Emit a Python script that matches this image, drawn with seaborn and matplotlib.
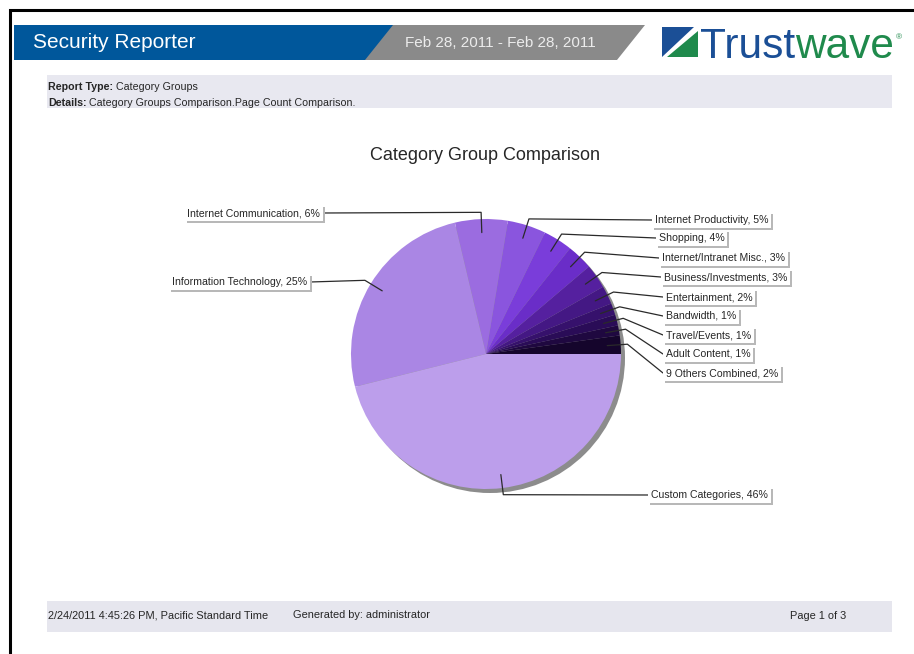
"""
Category Group Comparison pie, laid out as the Security Reporter page.
"""

import numpy as np
import matplotlib.pyplot as plt
import matplotlib.patches as mpatches
import matplotlib.patheffects as pe
import seaborn as sns

sns.set_theme(style="white")
plt.rcParams["font.family"] = ["Liberation Sans", "DejaVu Sans"]

# --- data (counter-clockwise from 3 o'clock) ---
categories = [
    "9 Others Combined", "Adult Content", "Travel/Events", "Bandwidth",
    "Entertainment", "Business/Investments", "Internet/Intranet Misc.",
    "Shopping", "Internet Productivity", "Internet Communication",
    "Information Technology", "Custom Categories",
]
shares = [2.2, 1.2, 1.3, 1.4, 2.2, 2.9, 3.1, 3.5, 4.6, 6.3, 25.2, 46.1]

report_type = "Category Groups"
details = "Category Groups Comparison.Page Count Comparison."
date_range = "Feb 28, 2011 - Feb 28, 2011"
generated_at = "2/24/2011 4:45:26 PM, Pacific Standard Time"
generated_by = "administrator"
page_info = "Page 1 of 3"

# --- style / layout ---
slice_colors = [
    "#15052c", "#1f0840", "#2a0c57", "#36116c", "#441884", "#55209f",
    "#6a2dc8", "#7a3dda", "#8a55de", "#9b6ce0", "#aa86e4", "#bc9eeb",
]
# label box edge (x, y) and side the box sits on
label_pos = [
    (663, 373, "r"), (663, 354, "r"), (663, 335, "r"), (663, 316, "r"),
    (663, 297, "r"), (661, 277, "r"), (659, 258, "r"), (656, 238, "r"),
    (652, 220, "r"), (323, 213, "l"), (310, 282, "l"), (648, 495, "r"),
]
W, H = 914, 654
CX, CY, R = 486, 354, 135
BLUE = "#00579b"

fig = plt.figure(figsize=(W / 100, H / 100), dpi=100)
ax = fig.add_axes([0, 0, 1, 1])

# page frame
ax.plot([10, 10, W], [H, 10, 10], color="black", lw=2.2, solid_joinstyle="miter")

# header bands
ax.add_patch(mpatches.Polygon([(360, 25), (645, 25), (617, 60), (360, 60)],
                              closed=True, fc="#8a8a8a", ec="none"))
ax.add_patch(mpatches.Polygon([(14, 25), (393, 25), (365, 60), (14, 60)],
                              closed=True, fc=BLUE, ec="none"))
ax.text(33, 43, "Security Reporter", color="white", fontsize=15, va="center")
ax.text(405, 43, date_range, color="#ececec", fontsize=11, va="center")

# logo
ax.add_patch(mpatches.Polygon([(662, 27), (694, 27), (662, 57)], fc="#1b4f96", ec="none"))
ax.add_patch(mpatches.Polygon([(698, 31), (698, 57), (667, 57)], fc="#1f8a4c", ec="none"))
t1 = ax.text(700, 58, "Trust", color="#1b4f96", fontsize=30.5, va="baseline")
t2 = ax.annotate("wave", xy=(1, 0), xycoords=t1, va="bottom", color="#1f8a4c", fontsize=30.5)
ax.annotate("\u00ae", xy=(1.02, 0.72), xycoords=t2, va="center", color="#1f8a4c", fontsize=6)

# details band
ax.add_patch(mpatches.Rectangle((47, 75), 845, 33, fc="#e8e8f0", ec="none"))
d1 = ax.text(48, 87, "Report Type:", fontsize=7.7, fontweight="bold", va="center")
ax.annotate(" " + report_type, xy=(1, 0.5), xycoords=d1, va="center", fontsize=7.7)
d2 = ax.text(48, 103, "Details:", fontsize=7.7, fontweight="bold", va="center")
ax.annotate(" " + details, xy=(1, 0.5), xycoords=d2, va="center", fontsize=7.7)

# title
ax.text(485, 155, "Category Group Comparison", fontsize=13, ha="center", va="center")

# pie shadow + pie (y axis is flipped, so counterclock=False reads as CCW)
ax.add_patch(mpatches.Circle((CX + 4, CY + 4), R, fc="#8c8c8c", ec="none", zorder=0.5))
ax.pie(shares, colors=slice_colors, startangle=0, counterclock=False,
       center=(CX, CY), radius=R, frame=True,
       wedgeprops=dict(linewidth=0, antialiased=True))

# leader lines and labels
total = sum(shares)
frac = np.array(shares) / total
mids = np.deg2rad((np.cumsum(frac) - frac / 2) * 360)
for name, share, ang, (lx, ly, side) in zip(categories, shares, mids, label_pos):
    sx, sy = CX + 0.9 * R * np.cos(ang), CY - 0.9 * R * np.sin(ang)
    ex, ey = CX + 1.05 * R * np.cos(ang), CY - 1.05 * R * np.sin(ang)
    ax.plot([sx, ex, lx], [sy, ey, ly], color="#2a2a2a", lw=0.9, zorder=3)
    label = f"{name}, {share / total * 100:.0f}%"
    if side == "r":
        txt = ax.text(lx + 3, ly, label, ha="left", va="center", fontsize=7.6, zorder=4)
    else:
        txt = ax.text(lx - 3, ly, label, ha="right", va="center", fontsize=7.6, zorder=4)
    txt.set_bbox(dict(boxstyle="square,pad=0.25", fc="white", ec="none"))
    txt.get_bbox_patch().set_path_effects(
        [pe.SimplePatchShadow(offset=(1.5, -1.5), shadow_rgbFace="#b8b8b8", alpha=1),
         pe.Normal()])

# footer band
ax.add_patch(mpatches.Rectangle((47, 601), 845, 31, fc="#e6e6ee", ec="none"))
ax.text(48, 615, generated_at, fontsize=7.9, va="center")
ax.text(293, 615, "Generated by: " + generated_by, fontsize=7.9, va="center")
ax.text(790, 616, page_info, fontsize=7.9, va="center")

ax.set_xlim(0, W)
ax.set_ylim(H, 0)
ax.set_aspect("auto")
ax.axis("off")

fig.savefig("out.png", dpi=100, facecolor="white")
